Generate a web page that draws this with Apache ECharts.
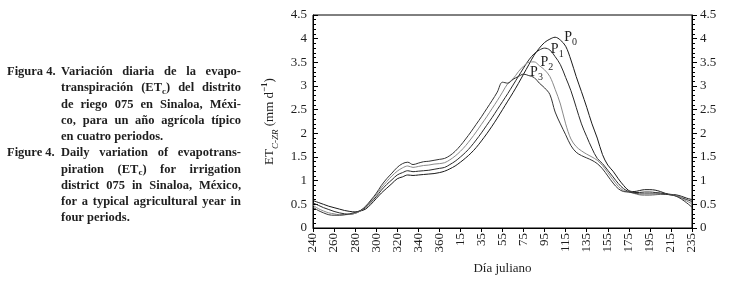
<!DOCTYPE html>
<html>
<head>
<meta charset="utf-8">
<script src="https://cdn.jsdelivr.net/npm/echarts@6/dist/echarts.min.js"></script>
<style>
html, body { margin: 0; padding: 0; background: #fff; }
#chart { width: 734px; height: 282px; }
</style>
</head>
<body>
<div id="chart"></div>
<script>
// dias julianos continuos (365 + n = dia n del año siguiente)
const xDays = [240,245,250,255,260,265,270,275,280,285,290,295,300,305,310,315,320,325,330,335,340,345,350,355,360,
  365,370,375,380,385,390,395,400,405,410,415,420,425,430,435,440,445,450,455,460,465,470,475,480,485,490,495,500,
  505,510,515,520,525,530,535,540,545,550,555,560,565,570,575,580,585,590,595,600]
const xTickLabels = ['240','260','280','300','320','340','360','15','35','55','75','95','115','135','155','175','195','215','235']

const p0 = [0.58,0.54,0.50,0.46,0.43,0.40,0.37,0.35,0.34,0.36,0.40,0.50,0.62,0.74,0.84,0.94,1.04,1.08,1.12,1.11,1.12,1.13,1.14,1.15,1.17,
  1.20,1.25,1.31,1.39,1.48,1.58,1.70,1.84,1.99,2.15,2.32,2.50,2.68,2.86,3.05,3.25,3.45,3.65,3.80,3.92,3.99,4.03,3.97,3.84,3.55,3.20,2.88,2.55,
  2.20,1.90,1.55,1.33,1.20,1.04,0.90,0.79,0.77,0.79,0.81,0.81,0.80,0.77,0.73,0.71,0.70,0.67,0.63,0.60]
const p1 = [0.53,0.48,0.43,0.39,0.35,0.32,0.30,0.29,0.31,0.36,0.43,0.54,0.66,0.80,0.92,1.02,1.12,1.17,1.21,1.19,1.20,1.21,1.22,1.24,1.26,
  1.28,1.34,1.41,1.50,1.60,1.72,1.86,2.01,2.17,2.33,2.50,2.67,2.84,3.02,3.20,3.38,3.55,3.68,3.76,3.80,3.76,3.62,3.45,3.18,2.90,2.55,2.20,1.93,
  1.68,1.47,1.36,1.22,1.08,0.94,0.83,0.77,0.75,0.75,0.76,0.76,0.75,0.74,0.72,0.70,0.68,0.64,0.60,0.56]
const p2 = [0.48,0.41,0.36,0.32,0.30,0.28,0.28,0.29,0.31,0.36,0.45,0.57,0.70,0.85,0.98,1.10,1.20,1.27,1.31,1.28,1.30,1.32,1.33,1.35,1.36,
  1.38,1.44,1.52,1.62,1.74,1.88,2.03,2.19,2.35,2.52,2.69,2.87,3.05,3.15,3.30,3.42,3.50,3.51,3.43,3.34,3.20,2.93,2.62,2.20,1.88,1.72,1.63,1.56,
  1.50,1.43,1.32,1.17,1.02,0.88,0.79,0.76,0.73,0.70,0.69,0.69,0.70,0.71,0.71,0.70,0.68,0.63,0.57,0.51]
const p3 = [0.44,0.37,0.32,0.28,0.27,0.27,0.28,0.30,0.33,0.37,0.46,0.59,0.73,0.90,1.04,1.16,1.28,1.36,1.39,1.34,1.37,1.40,1.41,1.43,1.45,
  1.47,1.53,1.62,1.74,1.88,2.03,2.19,2.35,2.52,2.69,2.87,3.08,3.06,3.14,3.20,3.25,3.22,3.18,3.06,2.96,2.82,2.45,2.20,1.97,1.74,1.60,1.53,1.48,
  1.43,1.36,1.25,1.10,0.95,0.83,0.77,0.76,0.74,0.72,0.72,0.72,0.72,0.72,0.71,0.70,0.67,0.61,0.53,0.44]

const seriesNames = ['P0', 'P1', 'P2', 'P3']
const seriesValues = [p0, p1, p2, p3]
const seriesColors = ['#1a1a1a', '#2a2a2a', '#8a8a8a', '#333333']
// donde va cada etiqueta P (coordenadas de datos)
const labelDay = [484.8, 472, 462.1, 452.3]
const labelValue = [4.03, 3.78, 3.5, 3.29]

const caption = [
  { lead: 'Figura 4.', text: 'Variación diaria de la evapo-', justify: true },
  { text: 'transpiración (ET{s|c}) del distrito', justify: true },
  { text: 'de riego 075 en Sinaloa, Méxi-', justify: true },
  { text: 'co, para un año agrícola típico', justify: true },
  { text: 'en cuatro periodos.', justify: false },
  { lead: 'Figure 4.', text: 'Daily variation of evapotrans-', justify: true },
  { text: 'piration (ET{s|c}) for irrigation', justify: true },
  { text: 'district 075 in Sinaloa, México,', justify: true },
  { text: 'for a typical agricultural year in', justify: true },
  { text: 'four periods.', justify: false }
]

const FONT = '"Liberation Serif", "DejaVu Serif", serif'
const INK = '#1e1e1e'
const capSize = 12.5
const capRich = { s: { fontSize: 9, fontWeight: 'bold', fontFamily: FONT, verticalAlign: 'bottom', lineHeight: 10, fill: INK } }

const ctx = document.createElement('canvas').getContext('2d')
function measure(word) {
  let w = 0
  word.split(/(\{s\|[^}]*\})/).forEach(part => {
    const m = part.match(/^\{s\|([^}]*)\}$/)
    if (m) { ctx.font = 'bold 9px ' + FONT; w += ctx.measureText(m[1]).width }
    else if (part) { ctx.font = 'bold ' + capSize + 'px ' + FONT; w += ctx.measureText(part).width }
  })
  return w
}
function capText(str, x, y) {
  return {
    type: 'text', silent: true,
    style: { text: str, x, y, fill: INK, fontSize: capSize, fontWeight: 'bold', fontFamily: FONT,
      lineHeight: 16, verticalAlign: 'middle', align: 'left', rich: capRich }
  }
}

const graphics = []
caption.forEach((ln, i) => {
  const y = 72 + i * 16.25
  if (ln.lead) graphics.push(capText(ln.lead, 7, y))
  const words = ln.text.split(' ')
  if (ln.justify) {
    const total = words.reduce((s, w) => s + measure(w), 0)
    const gap = (241 - 61 - total) / (words.length - 1)
    let x = 61
    words.forEach(w => { graphics.push(capText(w, x, y)); x += measure(w) + gap })
  } else {
    graphics.push(capText(ln.text, 61, y))
  }
})

const chart = echarts.init(document.getElementById('chart'), null, { renderer: 'canvas' })

const tickLabelStyle = { color: INK, fontFamily: FONT, fontSize: 13 }

chart.setOption({
  animation: false,
  backgroundColor: '#fff',
  graphic: graphics,
  grid: { left: 313, top: 15, width: 379, height: 213, show: true, borderColor: '#000', borderWidth: 1, backgroundColor: 'transparent' },
  xAxis: {
    type: 'value', min: 240, max: 600, interval: 20,
    name: 'Día juliano', nameLocation: 'middle', nameGap: 34,
    nameTextStyle: { color: INK, fontFamily: FONT, fontSize: 13 },
    axisLine: { show: true, lineStyle: { color: '#000', width: 1 } },
    axisTick: { show: true, length: 4, lineStyle: { color: '#000' } },
    axisLabel: { ...tickLabelStyle, rotate: 90, margin: 5,
      formatter: v => xTickLabels[Math.round((v - 240) / 20)] },
    splitLine: { show: false }
  },
  yAxis: [
    {
      type: 'value', position: 'left', min: 0, max: 4.5, interval: 0.5,
      name: 'ET{s|C-ZR} (mm d{p|−1})', nameLocation: 'middle', nameGap: 30,
      nameTextStyle: {
        color: INK, fontFamily: FONT, fontSize: 13, lineHeight: 20,
        rich: {
          s: { fontSize: 9, fontStyle: 'italic', fontFamily: FONT, verticalAlign: 'bottom', lineHeight: 13, color: INK },
          p: { fontSize: 9, fontWeight: 'bold', fontFamily: FONT, verticalAlign: 'top', lineHeight: 13, color: INK }
        }
      },
      axisLine: { show: true, lineStyle: { color: '#000', width: 1 } },
      axisTick: { show: true, inside: true, length: 5, lineStyle: { color: '#000' } },
      minorTick: { show: true, splitNumber: 5, length: 3, lineStyle: { color: '#000' } },
      axisLabel: { ...tickLabelStyle, margin: 6 },
      splitLine: { show: false }
    },
    {
      type: 'value', position: 'right', min: 0, max: 4.5, interval: 0.5,
      axisLine: { show: true, lineStyle: { color: '#000', width: 1 } },
      axisTick: { show: true, inside: false, length: 5, lineStyle: { color: '#000' } },
      minorTick: { show: true, splitNumber: 5, length: 3, lineStyle: { color: '#000' } },
      axisLabel: { ...tickLabelStyle, margin: 8 },
      splitLine: { show: false }
    }
  ],
  series: seriesNames.map((name, k) => ({
    name, type: 'line', xAxisIndex: 0, yAxisIndex: 0,
    data: xDays.map((d, i) => [d, seriesValues[k][i]]),
    showSymbol: false, smooth: 0.35, silent: true,
    lineStyle: { color: seriesColors[k], width: 1 },
    markPoint: {
      symbol: 'circle', symbolSize: 0, silent: true,
      label: {
        show: true, position: 'inside', color: INK,
        formatter: '{p|P}{s|' + name.slice(1) + '}',
        rich: {
          p: { fontSize: 14, fontFamily: FONT, lineHeight: 20, color: INK },
          s: { fontSize: 10, fontFamily: FONT, verticalAlign: 'bottom', lineHeight: 12, color: INK }
        }
      },
      data: [{ coord: [labelDay[k], labelValue[k]] }]
    }
  }))
})
</script>
</body>
</html>
